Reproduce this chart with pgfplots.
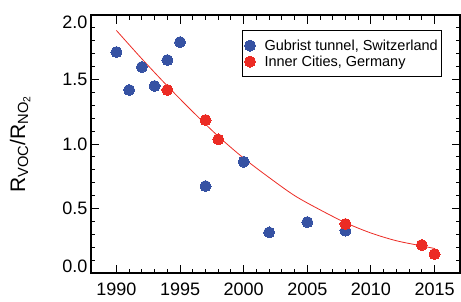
\documentclass[border=0pt]{standalone}
\usepackage{fontspec}
\setmainfont{Liberation Sans}
\usepackage{pgfplots}
\pgfplotsset{compat=1.18}
\definecolor{bluept}{RGB}{54,82,163}
\definecolor{redpt}{RGB}{236,43,36}
\newcommand{\yl}[2]{\smash{\raisebox{#1}{#2}}}
\begin{document}
\begin{tikzpicture}
\begin{axis}[
  scale only axis, width=369pt, height=258pt,
  xmin=1988, xmax=2017, ymin=0, ymax=2,
  xtick={1990,1995,...,2015}, minor x tick num=4,
  ytick={0,0.5,1.0,1.5,2.0}, minor y tick num=4,
  yticklabels={\yl{0.2pt}{0.0},\yl{-6.45pt}{0.5},\yl{-6.45pt}{1.0},\yl{-6.45pt}{1.5},\yl{-13.1pt}{2.0}},
  tick align=inside, major tick length=8.5pt, minor tick length=4.5pt,
  axis line style={line width=1.2pt},
  every tick/.style={black, line width=1pt},
  ticklabel style={font=\fontsize{18}{20}\selectfont},
  xticklabel style={/pgf/number format/1000 sep={}, yshift=-6pt},
  /pgf/number format/assume math mode=true,
  ylabel={R\textsubscript{VOC}/R\textsubscript{NO\textsubscript{2}}},
  ylabel style={font=\fontsize{21}{24}\selectfont, at={(axis description cs:-0.192,0.5)}, anchor=center},
  legend style={at={(axis description cs:0.409,0.942)}, anchor=north west, draw=black, line width=1.2pt,
    font=\fontsize{14.5}{16}\selectfont, legend cell align=left, inner xsep=2pt, inner ysep=7pt,
    /tikz/every odd column/.append style={column sep=7pt}},
]
\addplot[redpt, line width=0.8pt, smooth, forget plot] coordinates {
(1990,1.88) (1992,1.66) (1994,1.45) (1996,1.25) (1998,1.06) (2000,0.89) (2002,0.74)
(2004,0.60) (2006,0.49) (2008,0.39) (2010,0.31) (2012,0.25) (2014,0.21) (2015,0.19)};
\addplot[bluept, only marks, mark=*, mark size=5.5pt, mark options={draw=bluept, fill=bluept, line width=0pt}] coordinates {
(1990,1.713) (1991,1.419) (1992,1.597) (1993,1.45) (1994,1.651) (1995,1.79)
(1997,0.674) (2000,0.862) (2002,0.315) (2005,0.395) (2008,0.328)};
\addlegendentry{Gubrist tunnel, Switzerland}
\addplot[redpt, only marks, mark=*, mark size=5.5pt, mark options={draw=redpt, fill=redpt, line width=0pt}] coordinates {
(1994,1.419) (1997,1.186) (1998,1.036) (2008,0.38) (2014,0.217) (2015,0.147)};
\addlegendentry{Inner Cities, Germany}
\end{axis}
\pgfresetboundingbox
\path (current axis.south west) ++(-91pt,-28pt) rectangle ++(461pt,301pt);
\end{tikzpicture}
\end{document}
